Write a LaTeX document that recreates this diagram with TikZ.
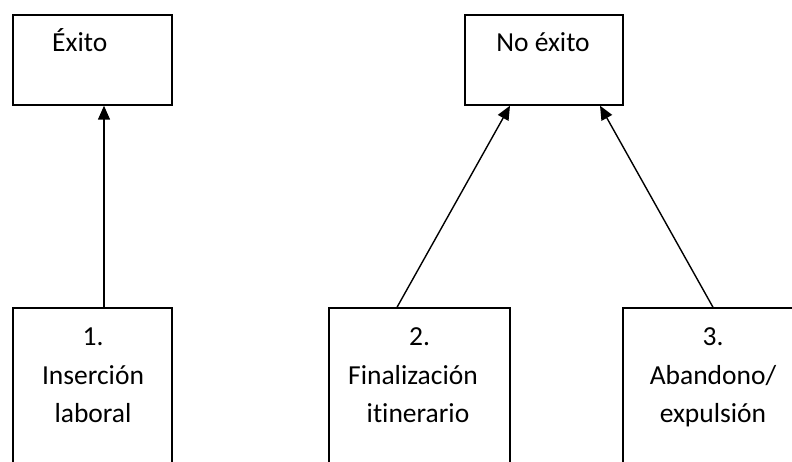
\documentclass[tikz,border=0pt]{standalone}
\usepackage{fontspec}
\setmainfont{Carlito}[Ligatures=NoCommon]
\usetikzlibrary{arrows.meta,calc}
\begin{document}
\begin{tikzpicture}[x=1pt,y=-1pt,
  box/.style={draw=black,line width=1.4pt,rectangle,inner sep=0pt},
  lbl/.style={font=\fontsize{27.5}{31}\selectfont,anchor=base,inner sep=0pt},
  conn/.style={draw=black,line width=1.4pt,-{Triangle[length=14pt,width=12pt]}}]
\useasboundingbox (0,0) rectangle (792,462);
\clip (0,0) rectangle (792,462);
\node[box,minimum width=159pt,minimum height=90pt] (exito) at (92.5,60) {};
\node[box,minimum width=158pt,minimum height=90pt] (noexito) at (544,60) {};
\node[box,minimum width=159pt,minimum height=200pt] (b1) at (92.5,408) {};
\node[box,minimum width=181pt,minimum height=200pt] (b2) at (419.5,408) {};
\node[box,minimum width=180pt,minimum height=200pt] (b3) at (713,408) {};
\node[lbl,anchor=base west] (t0) at (52,52) {Éxito};
\node[lbl] (t00) at (543,52) {No éxito};
\node[lbl] (t1a) at (93,345) {1.};
\node[lbl] (t1b) at (93,384) {Inserción};
\node[lbl] (t1c) at (93,422) {laboral};
\node[lbl] (t2a) at (419.5,345) {2.};
\node[lbl] (t2b) at (413,384) {Finalización};
\node[lbl] (t2c) at (418,422) {itinerario};
\node[lbl] (t3a) at (713,345) {3.};
\node[lbl] (t3b) at (713,384) {Abandono/};
\node[lbl] (t3c) at (713,422) {expulsión};
\draw[conn] ([xshift=11.5pt]b1.north) -- ([xshift=11.5pt]b1.north |- exito.south);
\draw[conn] ([xshift=-22.5pt]b2.north) -- ([xshift=-34pt]noexito.south);
\draw[conn] (b3.north) -- ([xshift=56pt]noexito.south);
\end{tikzpicture}
\end{document}
